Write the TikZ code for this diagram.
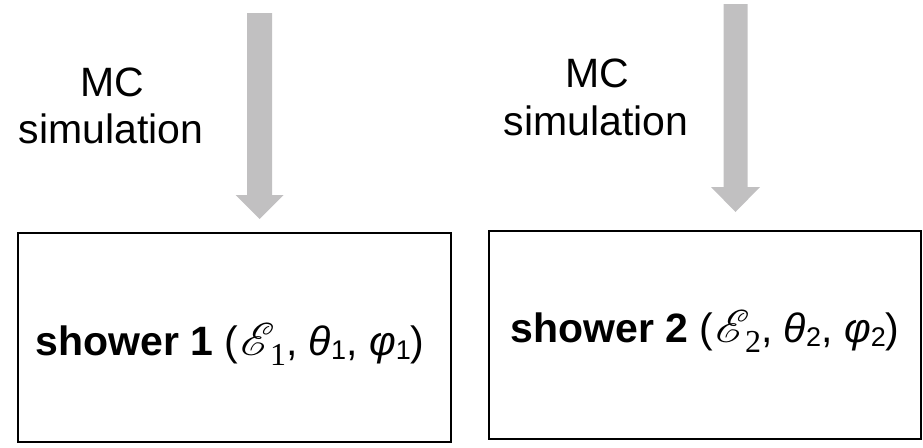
\documentclass[tikz,border=0pt]{standalone}
\usepackage{fontspec}
\setmainfont{Liberation Sans}
\newfontfamily\serifnum{Liberation Serif}
\usetikzlibrary{calc}
\font\rsfsbig=rsfs10 at 46pt
\definecolor{arrowgray}{RGB}{193,192,193}
\newcommand\showerparams[1]{{\fontsize{41}{46}\selectfont(\kern2pt{\rsfsbig E}\kern4pt\raisebox{-10pt}{\fontsize{32}{32}\serifnum #1},
  \textit{θ}\raisebox{-4pt}{\fontsize{27}{27}\selectfont #1},
  \textit{φ}\raisebox{-4pt}{\fontsize{27}{27}\selectfont #1})}}
\begin{document}
\begin{tikzpicture}[x=1pt,y=-1pt,
  box/.style={draw=black, line width=2.5pt, inner sep=0pt},
  lbl/.style={font=\fontsize{41}{47}\selectfont, inner sep=0pt, anchor=base},
  shw/.style={font=\fontsize{41}{47}\selectfont, inner sep=0pt, anchor=base},
  bigarrow/.style={fill=arrowgray, draw=none}]
\useasboundingbox (0,0) rectangle (923,447);

% boxes
\node[box, minimum width=433pt, minimum height=209pt] (box1) at (234.5,337.5) {};
\node[box, minimum width=432pt, minimum height=208pt] (box2) at (705,335) {};

% arrows (start and tip coordinates)
\coordinate (a1s) at (259.5,13);
\coordinate (a1t) at (259.5,219);
\coordinate (a2s) at (735.5,4);
\coordinate (a2t) at (735.5,212);
\fill[bigarrow] ($(a1s)+(-12.5,0)$) -- ($(a1s)+(12.5,0)$) -- ($(a1t)+(12.5,-24)$) -- ($(a1t)+(24,-24)$)
  -- (a1t) -- ($(a1t)+(-24,-24)$) -- ($(a1t)+(-12.5,-24)$) -- cycle;
\fill[bigarrow] ($(a2s)+(-12,0)$) -- ($(a2s)+(12,0)$) -- ($(a2t)+(12,-25)$) -- ($(a2t)+(24.5,-25)$)
  -- (a2t) -- ($(a2t)+(-24.5,-25)$) -- ($(a2t)+(-12,-25)$) -- cycle;

% labels
\node[lbl] (mc1) at (112,96) {MC};
\node[lbl] (sim1) at (111,143) {simulation};
\node[lbl] (mc2) at (597,87) {MC};
\node[lbl] (sim2) at (596,135) {simulation};

\node[shw] (s1) at (230,355) {\textbf{shower 1} \showerparams{1}};
\node[shw] (s2) at (705,342) {\textbf{shower 2} \showerparams{2}};
\end{tikzpicture}
\end{document}
